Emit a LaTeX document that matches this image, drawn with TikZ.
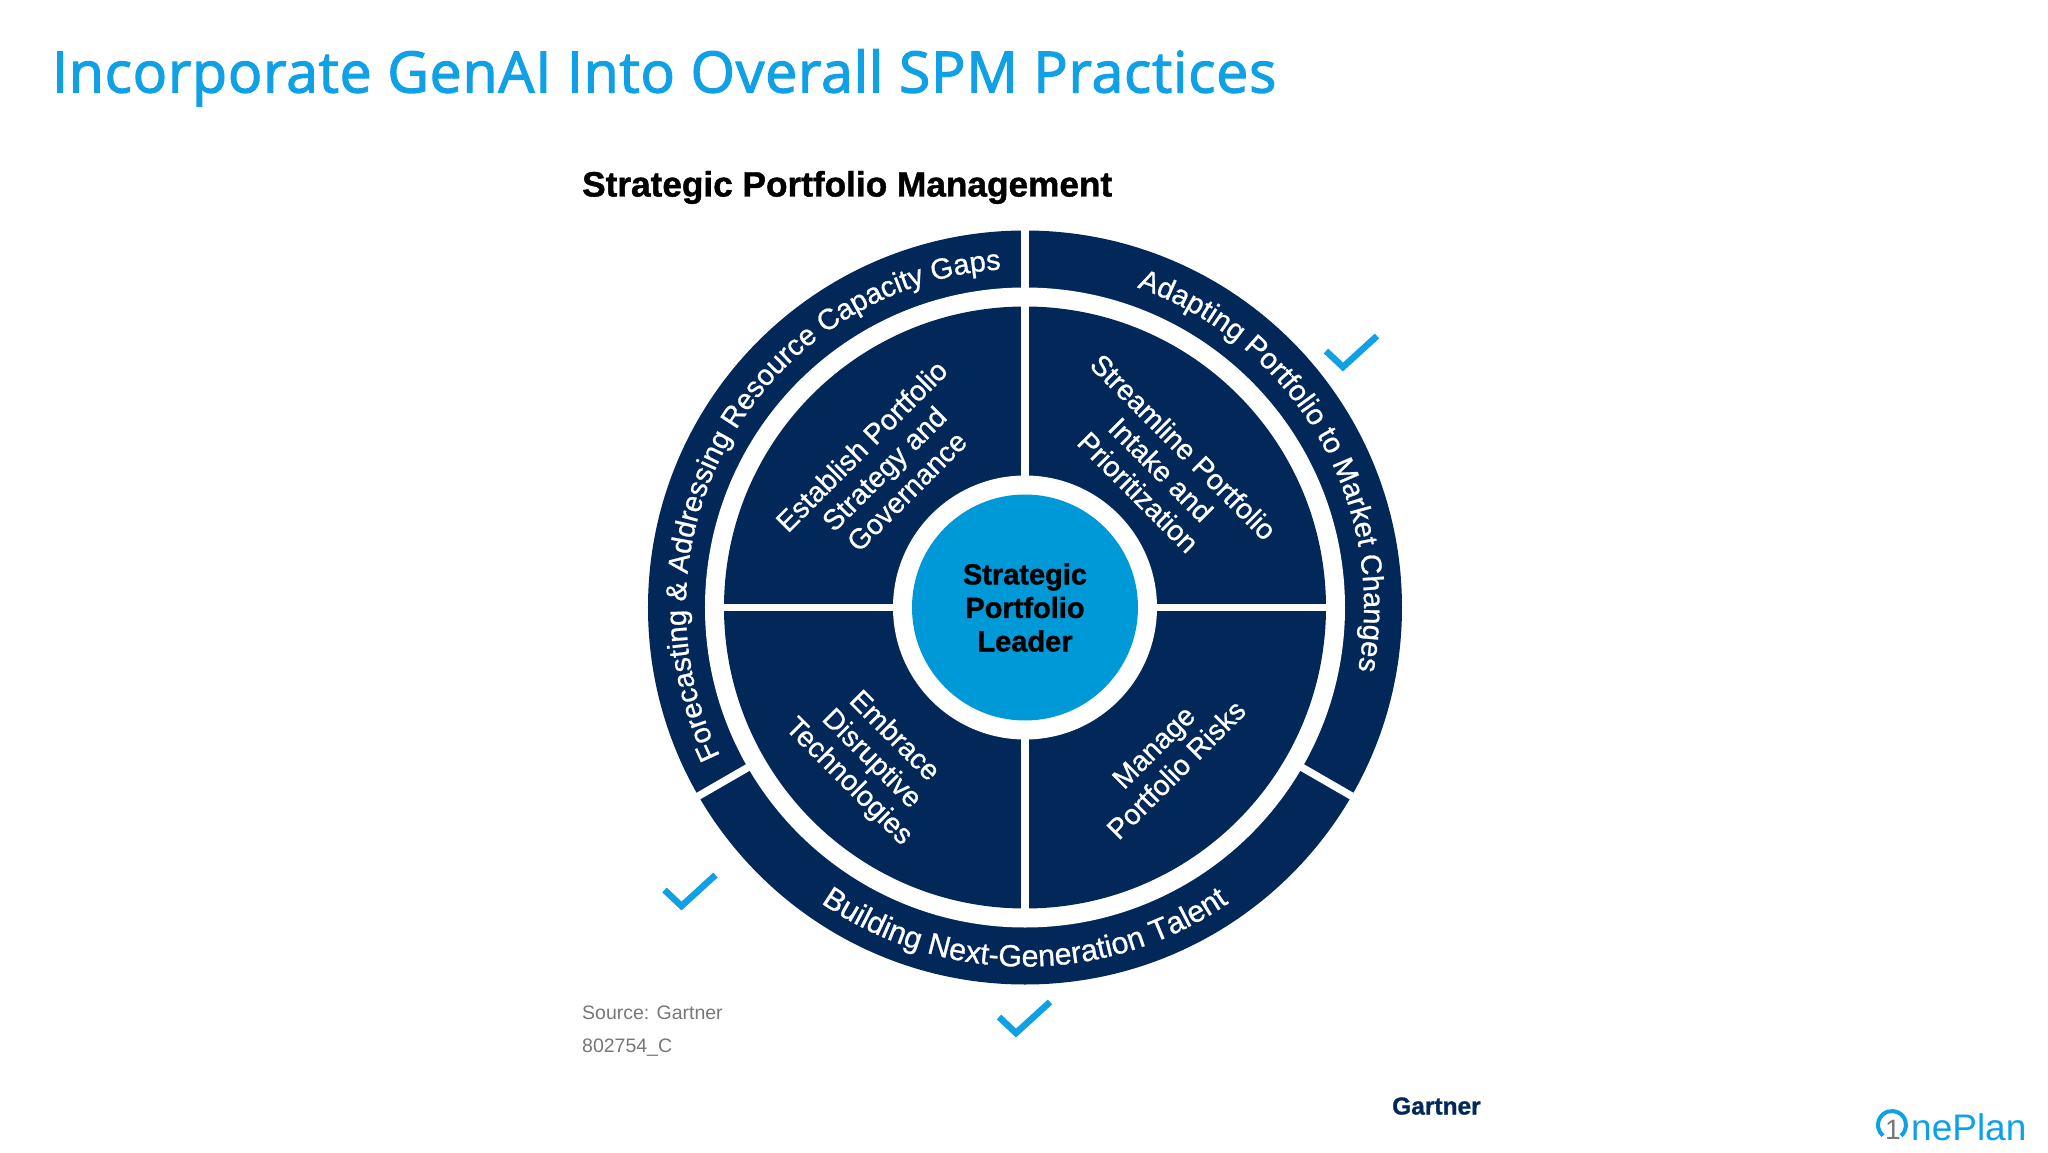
\documentclass[tikz,border=0pt]{standalone}
\usepackage{fontspec}
\usepackage{tikz}
\usetikzlibrary{positioning}
\usetikzlibrary{decorations.text}
\setmainfont{Liberation Sans}
\newfontfamily\titlefont[FakeBold=2.2,LetterSpace=1.5]{Open Sans}
\newfontfamily\mediumfont[FakeBold=0.8]{Liberation Sans}
\newfontfamily\heavyfont[UprightFont=* Bold,FakeBold=1.2]{Liberation Sans}

\definecolor{navyfill}{HTML}{02285A}
\definecolor{leadfill}{HTML}{0099D8}
\definecolor{skyline}{HTML}{0FA0E6}
\definecolor{notegray}{HTML}{777777}

\newcommand{\ringfont}{\mediumfont\fontsize{29}{30}\selectfont\color{white}}
\newcommand{\lowerringfont}{\mediumfont\fontsize{30.5}{32}\selectfont\color{white}}

\tikzset{
  gapline/.style={white,line width=7.5pt},
  tickmark/.style={skyline,line width=6.5pt,miter limit=10},
  wedgelabel/.style={white,align=center,font=\mediumfont\fontsize{28.5}{32}\selectfont},
  notelabel/.style={notegray,anchor=base west,font=\fontsize{19.5}{22}\selectfont}
}

\begin{document}
\begin{tikzpicture}[x=1pt,y=1pt]
\useasboundingbox (-1025,-544.5) rectangle (1023,607.5);

% rings
\fill[navyfill] (0,0) circle (377);
\fill[white] (0,0) circle (320);
\fill[navyfill] (0,0) circle (301);
\fill[white] (0,0) circle (132);
\fill[leadfill] (0,0) circle (113);

\draw[gapline] (90:125) -- (90:385);
\draw[gapline] (270:125) -- (270:310);
\draw[gapline] (0:125) -- (0:310);
\draw[gapline] (180:125) -- (180:310);
\draw[gapline] (210:315) -- (210:385);
\draw[gapline] (330:315) -- (330:385);

% outer ring texts
\path[decorate,decoration={text along path,text align=center,
  text={|\ringfont|Forecasting {\&} Addressing Resource Capacity Gaps}}]
  (210:339) arc (210:90:339);
\path[decorate,decoration={text along path,text align=center,
  text={|\ringfont|Adapting Portfolio to Market Changes}}]
  (90:339) arc (90:-30:339);
\path[decorate,decoration={text along path,text align=center,
  text={|\lowerringfont|Building Next-Generation Talent}}]
  (210:359) arc (210:330:359);

% wedges
\node[wedgelabel,rotate=45] (strategy) at (-141,139) {Establish Portfolio\\Strategy and\\Governance};
\node[wedgelabel,rotate=-45] (intake) at (136,138) {Streamline Portfolio\\Intake and\\Prioritization};
\node[wedgelabel,rotate=45] (risks) at (140,-151) {Manage\\Portfolio Risks};
\node[wedgelabel,rotate=-45] (disrupt) at (-154,-152) {Embrace\\Disruptive\\Technologies};
\node[align=center,font=\heavyfont\fontsize{29}{33.5}\selectfont] (leader) at (0,0) {Strategic\\Portfolio\\Leader};

% check marks
\foreach \tx/\ty in {318/240.5,-343.5/-298.5,-9/-425.5}
  \draw[tickmark] (\tx-17,\ty+16) -- (\tx,\ty) -- (\tx+34,\ty+31);

% title and notes
\node[anchor=base west,inner sep=0pt,text=skyline,font=\titlefont\fontsize{57}{60}\selectfont] (slidetitle) at (-973,515) {Incorporate GenAI Into Overall SPM Practices};
\node[anchor=base west,inner sep=0pt,font=\heavyfont\fontsize{35.2}{36}\selectfont] (heading) at (-443,411) {Strategic Portfolio Management};
\node[notelabel,inner sep=0pt] (source) at (-443,-412) {Source: Gartner};
\node[notelabel,inner sep=0pt] (docid) at (-443,-445) {802754\_C};

% logos
\node[anchor=base west,inner sep=0pt,text=navyfill,font=\heavyfont\fontsize{24.5}{26}\selectfont] (gartner) at (367,-507) {Gartner};
\node[anchor=base west,inner sep=0pt,text=skyline,font=\fontsize{37}{38}\selectfont] (oneplan) at (886,-532.5) {nePlan};
\draw[skyline,line width=4pt] (-50:14) ++(867,-517.5) arc (-50:230:14);
\node[text=notegray,font=\fontsize{28}{28}\selectfont,inner sep=0pt] (onedigit) at (868,-522) {1};
\end{tikzpicture}
\end{document}
